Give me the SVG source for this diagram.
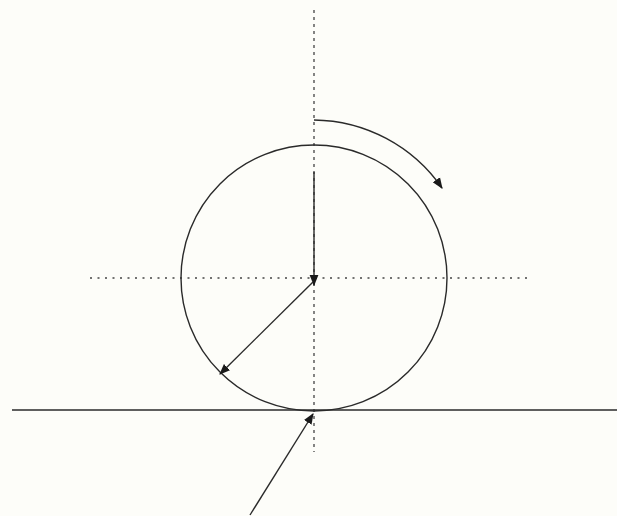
<svg xmlns="http://www.w3.org/2000/svg" width="617" height="516" viewBox="0 0 617 516">
<style>
.ln{stroke:#2a2a2a;stroke-width:1.4;fill:none}
.ax{stroke:#444;stroke-width:1.3;fill:none}
.ar{marker-end:url(#ah)}
</style>
<defs>
<marker id="ah" viewBox="0 0 10 10" refX="9" refY="5" markerWidth="11" markerHeight="11" markerUnits="userSpaceOnUse" orient="auto">
<path d="M0,1 L10,5 L0,9 z" fill="#1a1a1a"/>
</marker>
</defs>
<rect width="617" height="516" fill="#fdfdf9"/>
<g id="axes">
<line class="ax" x1="314" y1="10" x2="314" y2="452" stroke-dasharray="3,4"/>
<line class="ax" x1="90" y1="278" x2="528" y2="278" stroke-dasharray="2,5.5"/>
</g>
<g id="ground">
<line class="ln" x1="12" y1="410" x2="617" y2="410"/>
</g>
<g id="wheel">
<circle class="ln" cx="314" cy="278" r="133"/>
</g>
<g id="connectors">
<line class="ln ar" x1="314" y1="172" x2="314" y2="285"/>
<line class="ln ar" x1="313" y1="282" x2="220" y2="374"/>
<line class="ln ar" x1="250" y1="515" x2="313" y2="414"/>
<path class="ln ar" d="M314,120 A158,158 0 0 1 442,188"/>
</g>
</svg>
